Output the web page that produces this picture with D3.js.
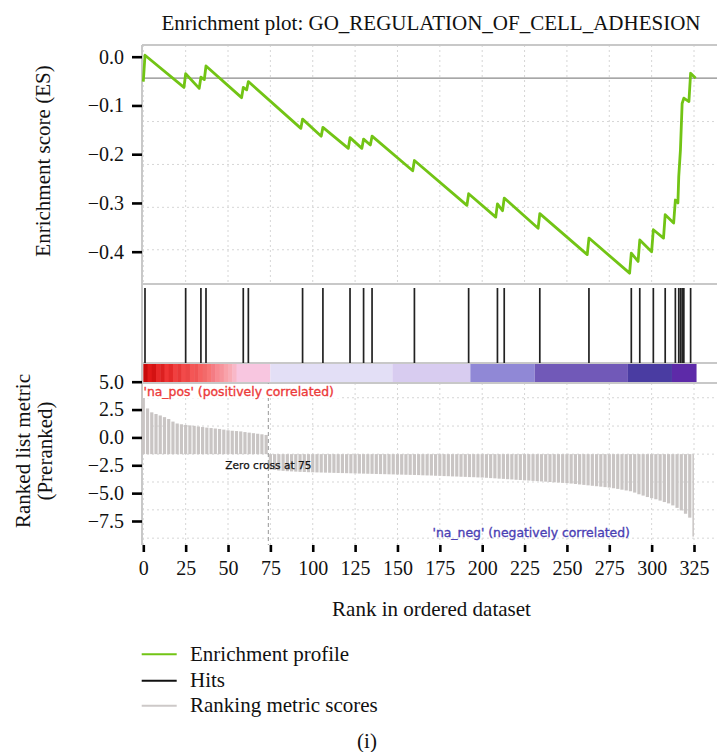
<!DOCTYPE html>
<html>
<head>
<meta charset="utf-8">
<script src="https://cdn.jsdelivr.net/npm/d3@7"></script>
<style>
  body { margin: 0; background: #fff; }
  svg { display: block; }
</style>
</head>
<body>
<script>
// ---- data ----
const title = "Enrichment plot: GO_REGULATION_OF_CELL_ADHESION";

// running enrichment score, vertices of the profile (rank, ES)
const esRank = [0, 1, 24, 25, 33, 34, 36, 37, 58, 59, 61, 62, 93, 94, 105, 106, 121, 122,
  129, 130, 134, 135, 159, 160, 191, 192, 208, 209, 212, 213, 233, 234, 262, 263, 287, 288,
  292, 293, 300, 301, 307, 308, 313, 314, 315.5, 316, 317, 318, 319, 322, 323, 326];
const esValue = [-0.051, 0.003, -0.063, -0.035, -0.065, -0.042, -0.047, -0.019, -0.084, -0.063,
  -0.068, -0.051, -0.147, -0.128, -0.163, -0.145, -0.188, -0.166, -0.188, -0.169, -0.181, -0.163,
  -0.234, -0.213, -0.305, -0.281, -0.329, -0.302, -0.316, -0.29, -0.352, -0.322, -0.406, -0.372,
  -0.444, -0.403, -0.42, -0.376, -0.40, -0.355, -0.372, -0.324, -0.341, -0.294, -0.300, -0.246,
  -0.191, -0.096, -0.085, -0.092, -0.034, -0.044];

// gene set hits (rank positions)
const hits = [1, 25, 34, 37, 59, 62, 94, 106, 122, 130, 135, 160, 192, 209, 213, 234, 263,
  288, 293, 301, 308, 314, 316, 317, 318, 319, 323];

// ranked list metric, one bar every 2.5 ranks (values as read on the printed axis)
const metricStep = 2.5;
const metric = [
  4.8, 2.6, 2.25, 2.1, 1.97, 1.82, 1.65, 1.42, 1.25, 1.18,
  1.12, 1.08, 1.04, 0.98, 0.93, 0.88, 0.84, 0.8, 0.76, 0.7,
  0.64, 0.6, 0.57, 0.54, 0.48, 0.43, 0.38, 0.33, 0.28, 0.22,
  -2.85, -2.92, -2.97, -3.0, -3.03, -3.05, -3.07, -3.09, -3.1, -3.12,
  -3.13, -3.14, -3.15, -3.16, -3.17, -3.18, -3.19, -3.2, -3.21, -3.22,
  -3.23, -3.24, -3.25, -3.26, -3.27, -3.28, -3.29, -3.3, -3.31, -3.32,
  -3.33, -3.34, -3.35, -3.36, -3.37, -3.38, -3.4, -3.41, -3.42, -3.44,
  -3.45, -3.47, -3.48, -3.5, -3.51, -3.53, -3.54, -3.56, -3.57, -3.59,
  -3.6, -3.62, -3.65, -3.67, -3.7, -3.72, -3.75, -3.77, -3.8, -3.82,
  -3.85, -3.87, -3.9, -3.92, -3.95, -3.97, -4.0, -4.03, -4.05, -4.08,
  -4.1, -4.14, -4.18, -4.22, -4.26, -4.3, -4.34, -4.38, -4.42, -4.46,
  -4.5, -4.56, -4.62, -4.69, -4.76, -4.83, -4.95, -5.1, -5.22, -5.35,
  -5.45, -5.55, -5.67, -5.8, -5.92, -6.1, -6.32, -6.55, -6.85, -7.2,
  -8.9
];
const metricBase = -1.5;   // where the bars start on the printed axis
const zeroCross = 75;

// heat bar: red stripes then flat bands
const redStripes = ["#c80a0a", "#e01818", "#d41212", "#e82828", "#dc2020", "#ee3434",
  "#e42a2a", "#f04040", "#e83838", "#f24a4a", "#ec4646", "#f45656", "#f05454", "#f66262",
  "#f26a6a", "#f87474", "#f47c84", "#f88a92", "#f6949c", "#f8a2aa", "#f8acb6", "#f8b8c8"];
const bandStart = [55, 75, 147, 193, 231, 286, 312];
const bandEnd = [75, 147, 193, 231, 286, 312, 326.5];
const bandColor = ["#f8c6e0", "#e3dff6", "#d8ccf0", "#9088d6", "#7159b8", "#4a3ca2", "#5d2aa8"];

const xTicks = d3.range(0, 326, 25);
const esTicks = [0, -0.1, -0.2, -0.3, -0.4];
const esGrid = [-0.133, -0.221, -0.309, -0.396];
const esZeroLine = -0.044;
const metricTicks = [5, 2.5, 0, -2.5, -5, -7.5];
const metricGrid = [3.56, 1.02, -1.5, -4.0, -6.5, -9.04];

const legendLabels = ["Enrichment profile", "Hits", "Ranking metric scores"];
const legendColors = ["#72c415", "#111111", "#cdc9c8"];

// ---- layout ----
const W = 717, H = 752;
const left = 142, right = 717;
const esTop = 45, esBot = 284, barTop = 363, barBot = 383, rankBot = 545;
const serif = "'Liberation Serif', 'DejaVu Serif', serif";
const sans = "'DejaVu Sans', Verdana, sans-serif";

const svg = d3.select("body").append("svg")
  .attr("width", W).attr("height", H)
  .attr("viewBox", `0 0 ${W} ${H}`);

const x = d3.scaleLinear().domain([0, 325]).range([143.3, 694]);
const yEs = d3.scaleLinear().domain([0, -0.4]).range([56.7, 251.7]);
const yM = d3.scaleLinear().domain([5, -7.5]).range([381.7, 521]);

// grid
const grid = svg.append("g")
  .attr("stroke", "#d6d6d6")
  .attr("stroke-width", 1)
  .attr("stroke-dasharray", "2,3");
grid.selectAll(".vg1").data(xTicks).enter().append("line")
  .attr("x1", d => x(d)).attr("x2", d => x(d))
  .attr("y1", esTop).attr("y2", esBot);
grid.selectAll(".vg2").data(xTicks).enter().append("line")
  .attr("x1", d => x(d)).attr("x2", d => x(d))
  .attr("y1", barBot).attr("y2", rankBot);
grid.selectAll(".hg1").data(esGrid).enter().append("line")
  .attr("x1", left).attr("x2", right)
  .attr("y1", d => yEs(d)).attr("y2", d => yEs(d));
grid.selectAll(".hg2").data(metricGrid).enter().append("line")
  .attr("x1", left).attr("x2", right)
  .attr("y1", d => yM(d)).attr("y2", d => yM(d));

// ES zero line
svg.append("line")
  .attr("x1", left).attr("x2", right)
  .attr("y1", yEs(esZeroLine)).attr("y2", yEs(esZeroLine))
  .attr("stroke", "#8a8a8a").attr("stroke-width", 1.2);

// frame
const frame = svg.append("g").attr("stroke", "#c8c8c8").attr("stroke-width", 2);
[esTop, esBot, barTop, barBot].forEach(yy => {
  frame.append("line").attr("x1", left).attr("x2", right).attr("y1", yy).attr("y2", yy);
});
frame.append("line").attr("x1", left).attr("x2", left).attr("y1", esTop).attr("y2", rankBot);

// heat bar
const bar = svg.append("g");
const stripeW = (bandStart[0] - 0) / redStripes.length;
bar.selectAll(".stripe").data(redStripes).enter().append("rect")
  .attr("x", (d, i) => x(i * stripeW))
  .attr("width", x(stripeW) - x(0) + 0.5)
  .attr("y", barTop + 1).attr("height", barBot - barTop - 2)
  .attr("fill", d => d);
bar.selectAll(".band").data(bandColor).enter().append("rect")
  .attr("x", (d, i) => x(bandStart[i]))
  .attr("width", (d, i) => x(bandEnd[i]) - x(bandStart[i]))
  .attr("y", barTop + 1).attr("height", barBot - barTop - 2)
  .attr("fill", d => d);

// hits
svg.append("g")
  .attr("stroke", "#222").attr("stroke-width", 1.7)
  .selectAll("line").data(hits).enter().append("line")
  .attr("x1", d => x(d)).attr("x2", d => x(d))
  .attr("y1", 288).attr("y2", barTop);

// ranked list bars
svg.append("g").attr("fill", "#c9c5c4")
  .selectAll("rect").data(metric).enter().append("rect")
  .attr("x", (d, i) => x(i * metricStep) - 1.6)
  .attr("width", (d, i) => i === metric.length - 1 ? 1.5 : 3.2)
  .attr("y", d => Math.min(yM(d), yM(metricBase)))
  .attr("height", d => Math.abs(yM(d) - yM(metricBase)));

// ES profile
const esPts = esRank.map((r, i) => [r, esValue[i]]);
svg.append("path")
  .datum(esPts)
  .attr("fill", "none")
  .attr("stroke", "#72c415")
  .attr("stroke-width", 2.8)
  .attr("stroke-linejoin", "round")
  .attr("d", d3.line().x(d => x(d[0])).y(d => yEs(d[1])));

// zero cross
svg.append("line")
  .attr("x1", x(zeroCross) - 2).attr("x2", x(zeroCross) - 2)
  .attr("y1", barBot).attr("y2", rankBot)
  .attr("stroke", "#a8a8a8").attr("stroke-width", 1.2)
  .attr("stroke-dasharray", "4,3");
svg.append("text")
  .attr("x", x(zeroCross) - 2).attr("y", 469)
  .attr("text-anchor", "middle")
  .attr("font-family", sans).attr("font-size", 10.6)
  .attr("fill", "#111").attr("stroke", "#111").attr("stroke-width", 0.25)
  .text(`Zero cross at ${zeroCross}`);

// phenotype labels
svg.append("rect")
  .attr("x", left + 1).attr("y", barBot + 1).attr("width", 196).attr("height", 14)
  .attr("fill", "#fff");
svg.append("text")
  .attr("x", 143.5).attr("y", 395.5)
  .attr("font-family", sans).attr("font-size", 12.4)
  .attr("fill", "#ec3a3a").attr("stroke", "#ec3a3a").attr("stroke-width", 0.35)
  .text("'na_pos' (positively correlated)");
svg.append("text")
  .attr("x", 432.5).attr("y", 536.5)
  .attr("font-family", sans).attr("font-size", 12.4)
  .attr("fill", "#4a40b4").attr("stroke", "#4a40b4").attr("stroke-width", 0.35)
  .text("'na_neg' (negatively correlated)");

// axes
function styleAxis(g) {
  g.select(".domain").remove();
  g.selectAll(".tick line").attr("stroke", "#000").attr("stroke-width", 2.6);
  g.selectAll(".tick text").attr("font-family", serif).attr("font-size", 20).attr("fill", "#111");
}
svg.append("g")
  .attr("transform", `translate(${left},0)`)
  .call(d3.axisLeft(yEs).tickValues(esTicks).tickFormat(d3.format(".1f")).tickSize(10).tickPadding(8))
  .call(styleAxis);
svg.append("g")
  .attr("transform", `translate(${left},0)`)
  .call(d3.axisLeft(yM).tickValues(metricTicks).tickFormat(d3.format(".1f")).tickSize(10).tickPadding(8))
  .call(styleAxis);
svg.append("g")
  .attr("transform", `translate(0,${rankBot})`)
  .call(d3.axisBottom(x).tickValues(xTicks).tickSize(7).tickPadding(9))
  .call(styleAxis);

// titles
svg.append("text")
  .attr("x", 431).attr("y", 29.5)
  .attr("text-anchor", "middle")
  .attr("font-family", serif).attr("font-size", 21).attr("fill", "#111")
  .text(title);
svg.append("text")
  .attr("transform", "translate(50,161) rotate(-90)")
  .attr("text-anchor", "middle")
  .attr("font-family", serif).attr("font-size", 21).attr("fill", "#111")
  .text("Enrichment score (ES)");
const yl2 = svg.append("text")
  .attr("transform", "translate(29.5,451) rotate(-90)")
  .attr("text-anchor", "middle")
  .attr("font-family", serif).attr("font-size", 21).attr("fill", "#111");
yl2.append("tspan").attr("x", 0).attr("y", 0).text("Ranked list metric");
yl2.append("tspan").attr("x", 0).attr("y", 22.5).text("(Preranked)");
svg.append("text")
  .attr("x", 431.5).attr("y", 616)
  .attr("text-anchor", "middle")
  .attr("font-family", serif).attr("font-size", 21).attr("fill", "#111")
  .text("Rank in ordered dataset");

// legend
const legend = svg.append("g");
const legendY = [654.3, 680.7, 705.7];
legendLabels.forEach((lab, i) => {
  legend.append("line")
    .attr("x1", 141.7).attr("x2", 176.7)
    .attr("y1", legendY[i]).attr("y2", legendY[i])
    .attr("stroke", legendColors[i]).attr("stroke-width", 2);
  legend.append("text")
    .attr("x", 190).attr("y", legendY[i] + 6.5)
    .attr("font-family", serif).attr("font-size", 21).attr("fill", "#111")
    .text(lab);
});

svg.append("text")
  .attr("x", 367).attr("y", 748)
  .attr("text-anchor", "middle")
  .attr("font-family", serif).attr("font-size", 21).attr("fill", "#111")
  .text("(i)");
</script>
</body>
</html>
